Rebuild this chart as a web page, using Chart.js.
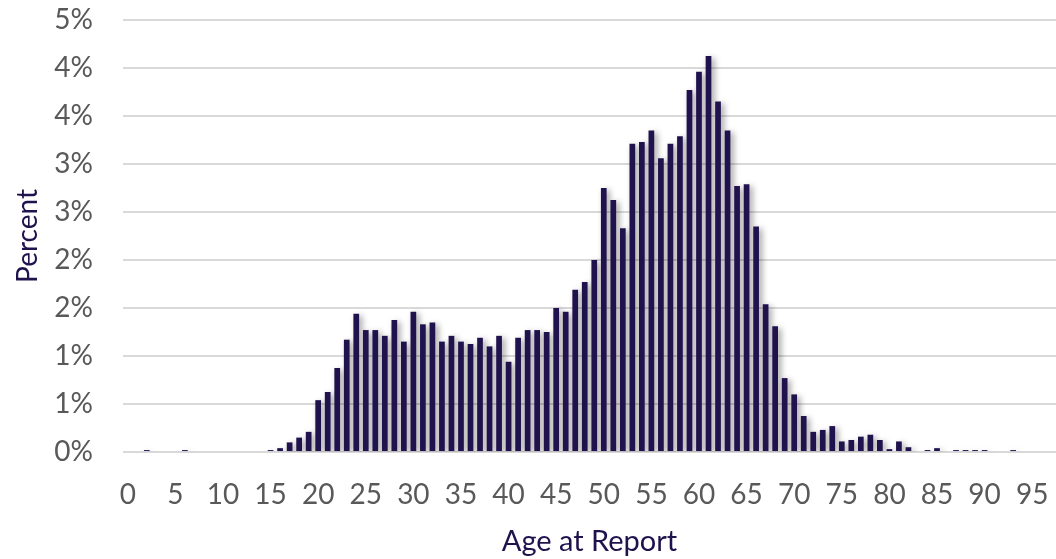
<!DOCTYPE html>
<html>
<head>
<meta charset="utf-8">
<script src="https://cdn.jsdelivr.net/npm/chart.js@4"></script>
<style>
  html, body { margin: 0; padding: 0; background: #ffffff; }
  #wrap { width: 1056px; height: 559px; }
</style>
</head>
<body>
<div id="wrap"><canvas id="c" width="1056" height="559"></canvas></div>
<script>
// Ages 0..97 (categories)
const ages = Array.from({length: 98}, (_, i) => String(i));
// Percent of reports at each age
const percentValues = [
  0, 0, 0.02, 0, 0, 0, 0.02, 0, 0, 0,            // 0-9
  0, 0, 0, 0, 0, 0.02, 0.04, 0.10, 0.15, 0.21,    // 10-19
  0.54, 0.625, 0.875, 1.17, 1.44, 1.27, 1.27, 1.21, 1.375, 1.15, // 20-29
  1.46, 1.33, 1.35, 1.15, 1.21, 1.15, 1.125, 1.19, 1.10, 1.21,   // 30-39
  0.94, 1.19, 1.27, 1.27, 1.25, 1.50, 1.46, 1.69, 1.77, 2.00,    // 40-49
  2.75, 2.625, 2.33, 3.21, 3.23, 3.35, 3.06, 3.21, 3.29, 3.77,   // 50-59
  3.96, 4.125, 3.65, 3.35, 2.77, 2.79, 2.35, 1.54, 1.31, 0.77,   // 60-69
  0.60, 0.375, 0.21, 0.23, 0.27, 0.11, 0.125, 0.16, 0.18, 0.125, // 70-79
  0.03, 0.11, 0.05, 0, 0.02, 0.04, 0, 0.02, 0.02, 0.02,          // 80-89
  0.02, 0, 0, 0.02, 0, 0, 0, 0                                   // 90-97
];
// Y axis range and step (percent)
const yMin = 0, yMax = 4.5, yStep = 0.5;
const xLabelEvery = 5, xLabelMax = 95;

const barColor = '#20124d';
const tickColor = '#595959';
const titleColor = '#20124d';
const gridColor = '#d9d9d9';
const fontFamily = 'Lato, "Open Sans", sans-serif';

const shadowPlugin = {
  id: 'barShadow',
  beforeDatasetsDraw(chart) {
    const ctx = chart.ctx;
    ctx.save();
    ctx.shadowColor = 'rgba(0,0,0,0.38)';
    ctx.shadowBlur = 6;
    ctx.shadowOffsetX = 3;
    ctx.shadowOffsetY = 2;
  },
  afterDatasetsDraw(chart) {
    chart.ctx.restore();
  }
};

new Chart(document.getElementById('c'), {
  type: 'bar',
  data: {
    labels: ages,
    datasets: [{
      data: percentValues,
      backgroundColor: barColor,
      borderWidth: 0,
      categoryPercentage: 1.0,
      barPercentage: 0.6
    }]
  },
  plugins: [shadowPlugin],
  options: {
    responsive: false,
    animation: false,
    devicePixelRatio: 1,
    layout: { padding: { top: 20, right: 0, bottom: 0, left: 0 } },
    plugins: { legend: { display: false }, tooltip: { enabled: false } },
    scales: {
      x: {
        offset: true,
        grid: { display: false, drawTicks: false },
        border: { display: false },
        ticks: {
          autoSkip: false,
          maxRotation: 0,
          minRotation: 0,
          padding: 26,
          color: tickColor,
          font: { family: fontFamily, size: 28 },
          callback: function(value, index) {
            return (index % xLabelEvery === 0 && index <= xLabelMax) ? ages[index] : '';
          }
        },
        title: {
          display: true,
          text: 'Age at Report',
          color: titleColor,
          font: { family: fontFamily, size: 29 },
          padding: { top: 0, bottom: 0 }
        },
        afterFit: function(scale) {
          scale.height = 107;
          scale.paddingLeft = 0; scale.paddingRight = 0;
        }
      },
      y: {
        min: yMin,
        max: yMax,
        grid: { color: gridColor, lineWidth: 2, drawTicks: false },
        border: { display: false },
        ticks: {
          stepSize: yStep,
          padding: 30,
          color: tickColor,
          font: { family: fontFamily, size: 28 },
          callback: function(v) { return Math.round(v) + '%'; }
        },
        title: {
          display: true,
          text: 'Percent',
          color: titleColor,
          font: { family: fontFamily, size: 28 },
          padding: { top: 11, bottom: 0 }
        },
        afterFit: function(scale) {
          scale.width = 123;
          scale.paddingTop = 0; scale.paddingBottom = 0;
        }
      }
    }
  }
});
</script>
</body>
</html>
